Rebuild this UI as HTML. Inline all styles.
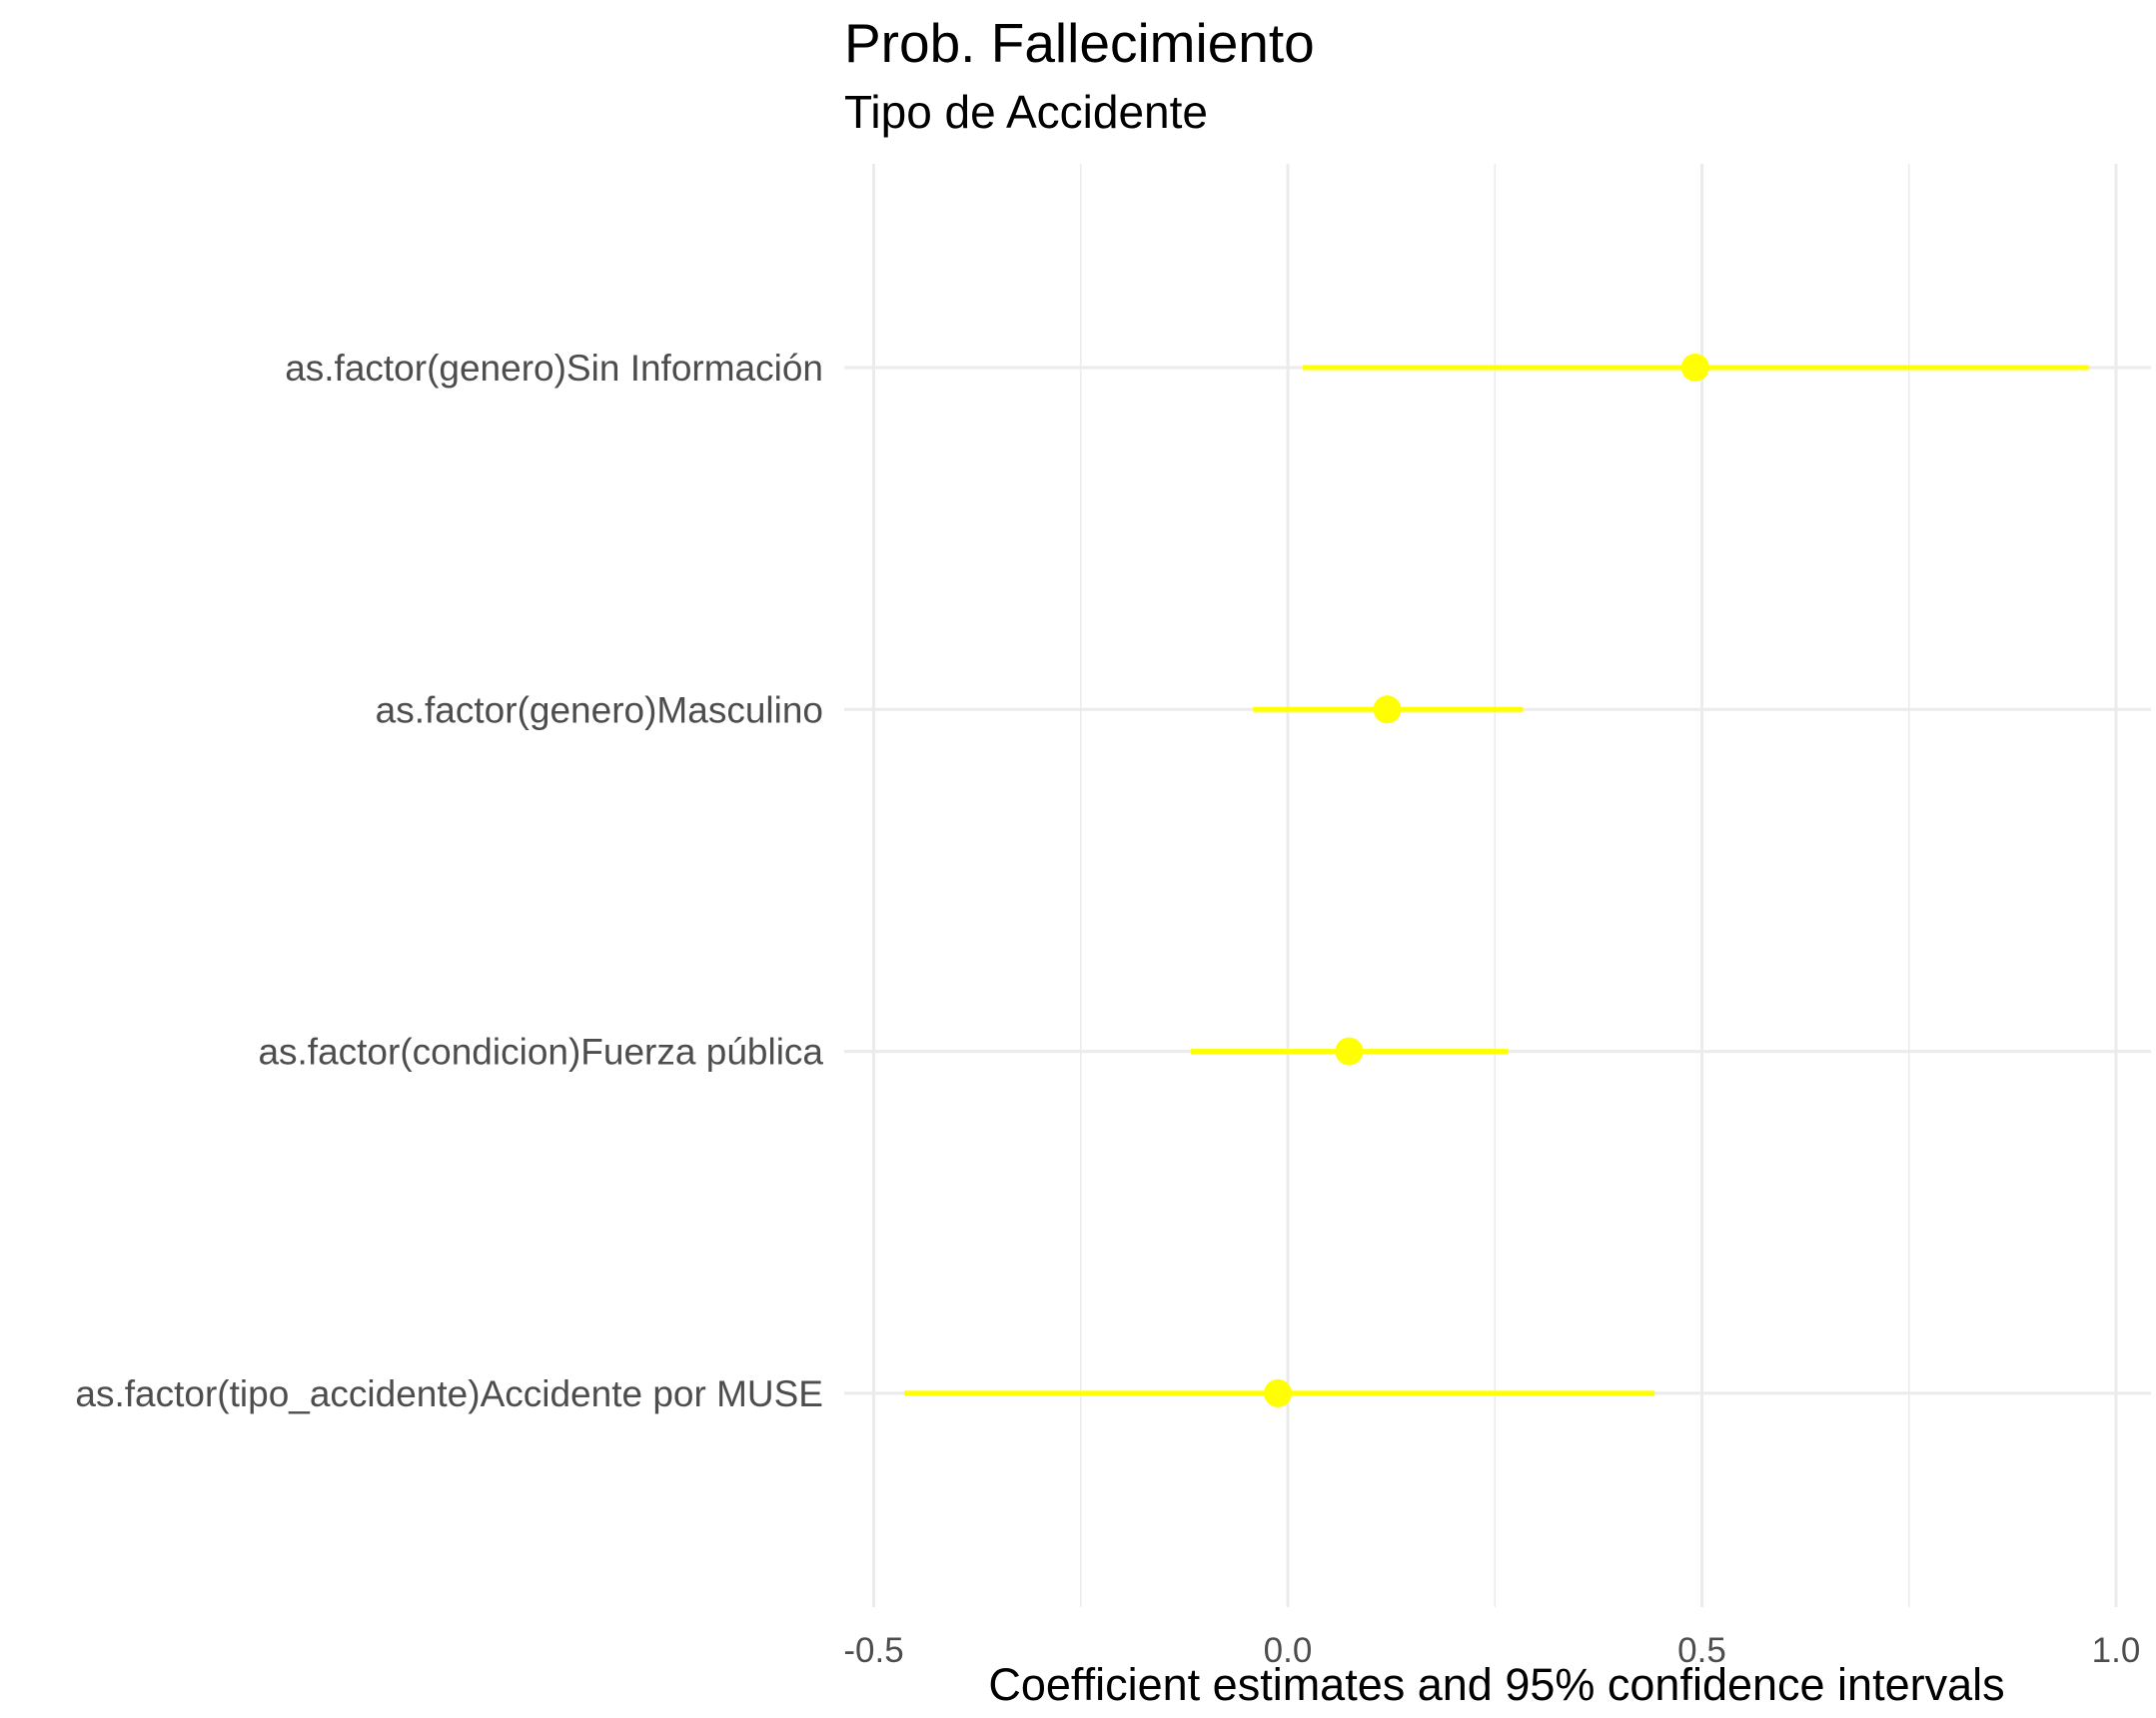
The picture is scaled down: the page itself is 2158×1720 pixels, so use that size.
<!DOCTYPE html>
<html><head><meta charset="utf-8"><style>html,body{margin:0;padding:0;background:#fff}svg{display:block}text{font-family:"Liberation Sans",Arial,sans-serif}</style></head>
<body>
<svg id="chart" width="2158" height="1720" viewBox="0 0 2158 1720" xmlns="http://www.w3.org/2000/svg">
<rect width="2158" height="1720" fill="#fff"/>
<text x="845" y="62" font-size="55" fill="#000">Prob. Fallecimiento</text>
<text x="845" y="128" font-size="46" fill="#000">Tipo de Accidente</text>
<g id="grid"></g><g id="marks"></g><g id="labels"></g>
<text x="1498" y="1702" font-size="45" text-anchor="middle" fill="#000">Coefficient estimates and 95% confidence intervals</text>
</svg>
<script>
const terms = ["as.factor(genero)Sin Información","as.factor(genero)Masculino","as.factor(condicion)Fuerza pública","as.factor(tipo_accidente)Accidente por MUSE"];
const estimates = [0.492, 0.120, 0.074, -0.012];
const lower = [0.018, -0.042, -0.117, -0.463];
const upper = [0.967, 0.284, 0.266, 0.443];
const xTicks = [-0.5, 0.0, 0.5, 1.0];
const xTickLabels = ["-0.5","0.0","0.5","1.0"];
const xMinor = [-0.25, 0.25, 0.75];

const NS="http://www.w3.org/2000/svg";
const pLeft=845, pRight=2153, pTop=164, pBottom=1609;
const xs = v => 1289 + v*829;
const ys = i => 368 + i*342.3;
function mk(tag, attrs, parent){const e=document.createElementNS(NS,tag);for(const k in attrs)e.setAttribute(k,attrs[k]);parent.appendChild(e);return e;}
const grid=document.getElementById('grid'), marks=document.getElementById('marks'), labels=document.getElementById('labels');
xMinor.forEach(v=>{const l=mk('line',{x1:xs(v),x2:xs(v),y1:pTop,y2:pBottom,stroke:'#ebebeb','stroke-width':1.5},grid);

});
xTicks.forEach((v,i)=>{const l=mk('line',{x1:xs(v),x2:xs(v),y1:pTop,y2:pBottom,stroke:'#ebebeb','stroke-width':3},grid);


const t=mk('text',{x:xs(v),y:1664,'font-size':35,'text-anchor':'middle',fill:'#4d4d4d'},labels);t.textContent=xTickLabels[i];

});
terms.forEach((term,i)=>{const y=ys(i);
const g=mk('line',{x1:pLeft,x2:pRight,y1:y,y2:y,stroke:'#ebebeb','stroke-width':3},grid);


const t=mk('text',{x:824,y:y+13,'font-size':37,'text-anchor':'end',fill:'#4d4d4d'},labels);t.textContent=term;


const ci=mk('line',{x1:xs(lower[i]),x2:xs(upper[i]),y1:y,y2:y,stroke:'#ffff00','stroke-width':5},marks);


const p=mk('circle',{cx:xs(estimates[i]),cy:y,r:14,fill:'#ffff00'},marks);

});
</script>
</body></html>
